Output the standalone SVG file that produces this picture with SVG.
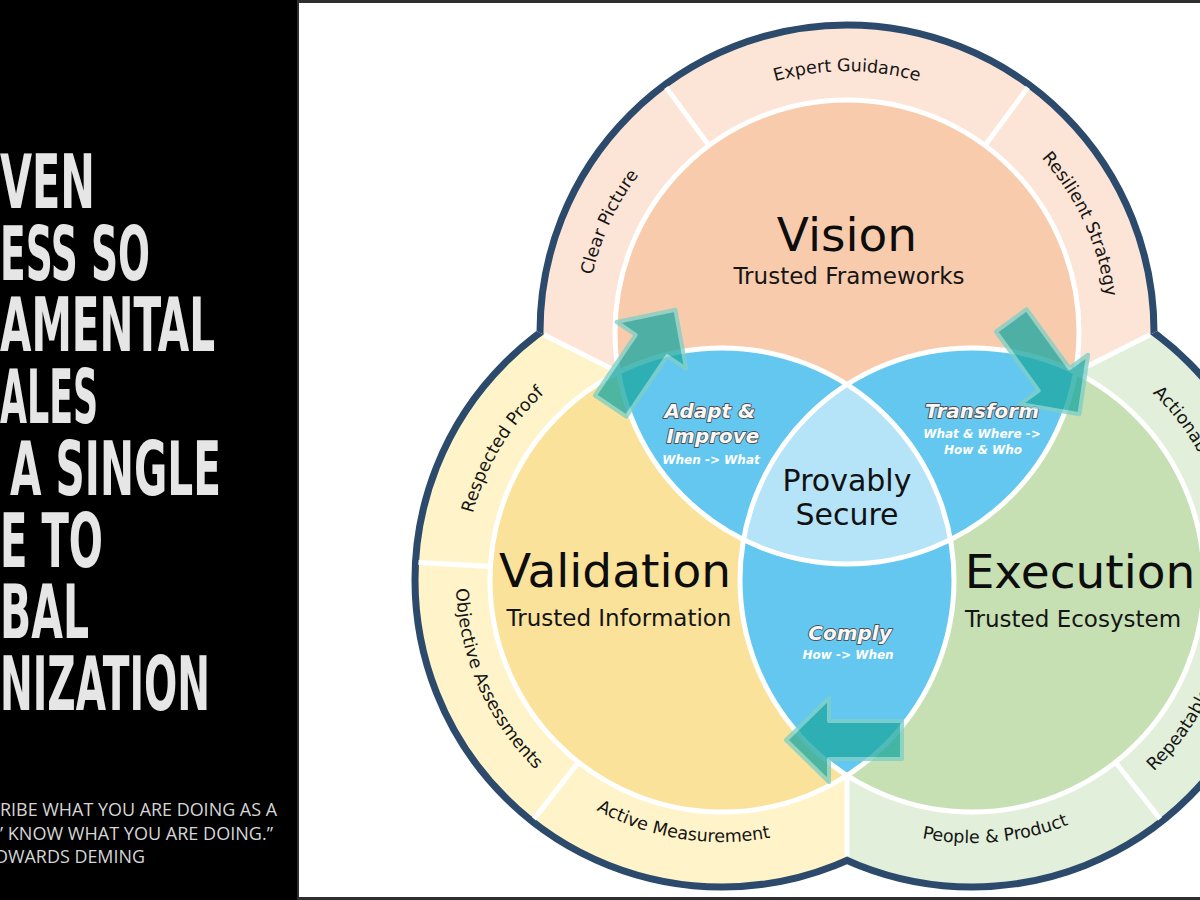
<svg xmlns="http://www.w3.org/2000/svg" width="1200" height="900" viewBox="0 0 1200 900">
<defs>
<style>
.ring-text{font-family:"DejaVu Sans",Verdana,sans-serif;font-size:17.5px;fill:#151515;}
.title{font-family:"DejaVu Sans",Verdana,sans-serif;font-size:47px;fill:#0d0d0d;}
.sub{font-family:"DejaVu Sans",Verdana,sans-serif;font-size:23px;fill:#151515;}
.center{font-family:"DejaVu Sans",Verdana,sans-serif;font-size:30px;fill:#111;}
.lens-title{font-family:"DejaVu Sans",Verdana,sans-serif;font-size:20px;font-weight:bold;font-style:italic;fill:#f7f7f7;stroke:#505050;stroke-width:1.8px;paint-order:stroke;stroke-linejoin:round;}
.lens-sub{font-family:"DejaVu Sans",Verdana,sans-serif;font-size:12px;font-weight:bold;font-style:italic;fill:#ffffff;}
.wl{stroke:#ffffff;stroke-width:5;fill:none;}
.border{fill:none;stroke:#2c4a6b;stroke-width:7;}
.arrow{fill:#1fa9a2;stroke:#7fd0c6;stroke-width:4;stroke-linejoin:round;}
.big{font-family:"Liberation Sans Narrow","DejaVu Sans Condensed",sans-serif;font-weight:bold;font-size:74px;fill:#e6e6e6;}
.quote{font-family:"Open Sans","Liberation Sans",sans-serif;font-size:18px;fill:#d6d6d6;}
</style>
<clipPath id="cellV"><polygon points="847,487.5 -400,-141 -400,-400 2094,-400 2094,-141"/></clipPath>
<clipPath id="cellA"><polygon points="847,487.5 -400,-141 -400,1400 847,1400"/></clipPath>
<clipPath id="cellE"><polygon points="847,487.5 2094,-141 2094,1400 847,1400"/></clipPath>
<clipPath id="cV"><circle cx="847" cy="332" r="232"/></clipPath>
<clipPath id="cA"><circle cx="722" cy="580" r="232"/></clipPath>
<clipPath id="cE"><circle cx="972" cy="580" r="232"/></clipPath>
<path id="arr" d="M-1,0 L-44,-42 L-44,-19 L-117,-19 L-117,19 L-44,19 L-44,42 Z"/>
<path id="tp-expert" d="M590.0,286.7 A261,261 0 0 1 1104.0,286.7"/>
<path id="tp-clear" d="M698.0,546.3 A261,261 0 0 1 913.7,79.7"/>
<path id="tp-resilient" d="M780.3,79.7 A261,261 0 0 1 996.0,546.3"/>
<path id="tp-respected" d="M553.8,775.6 A258,258 0 0 1 813.2,338.7"/>
<path id="tp-objective" d="M574.4,358.7 A266,266 0 0 0 785.0,838.4"/>
<path id="tp-active" d="M460.0,584.6 A262,262 0 0 0 969.7,665.3"/>
<path id="tp-people" d="M718.3,649.4 A263,263 0 0 0 1234.1,601.5"/>
<path id="tp-action" d="M1152.6,393.0 A260,260 0 0 1 926.9,836.0"/>
<path id="tp-repeat" d="M1153.7,771.5 A264,264 0 0 0 926.2,320.0"/>
</defs>

<g id="background">
<rect x="0" y="0" width="1200" height="900" fill="#2e2e2e"/>
<rect x="0" y="0" width="297" height="900" fill="#000000"/>
<rect x="299" y="3" width="901" height="894" fill="#ffffff"/>
</g>

<g id="left-panel">
<text class="big" x="0" y="208" textLength="95" lengthAdjust="spacingAndGlyphs">VEN</text>
<text class="big" x="0" y="280" textLength="150" lengthAdjust="spacingAndGlyphs">ESS SO</text>
<text class="big" x="0" y="351" textLength="215" lengthAdjust="spacingAndGlyphs">AMENTAL</text>
<text class="big" x="0" y="423" textLength="98" lengthAdjust="spacingAndGlyphs">ALES</text>
<text class="big" x="10" y="495" textLength="211" lengthAdjust="spacingAndGlyphs">A SINGLE</text>
<text class="big" x="0" y="567" textLength="103" lengthAdjust="spacingAndGlyphs">E TO</text>
<text class="big" x="0" y="638" textLength="89" lengthAdjust="spacingAndGlyphs">BAL</text>
<text class="big" x="0" y="710" textLength="210" lengthAdjust="spacingAndGlyphs">NIZATION</text>
<text class="quote" x="0" y="816" textLength="277" lengthAdjust="spacingAndGlyphs">RIBE WHAT YOU ARE DOING AS A</text>
<text class="quote" x="0" y="840" textLength="273" lengthAdjust="spacingAndGlyphs">’ KNOW WHAT YOU ARE DOING.”</text>
<text class="quote" x="-5" y="863" textLength="150" lengthAdjust="spacingAndGlyphs">DWARDS DEMING</text>
</g>

<g id="ring-vision">
<circle cx="847" cy="332" r="307" fill="#fce4d6" clip-path="url(#cellV)"/>
<circle cx="847" cy="332" r="307" class="border" clip-path="url(#cellV)"/>
<line class="wl" x1="709.0" y1="145.5" x2="666.2" y2="87.6"/>
<line class="wl" x1="985.0" y1="145.5" x2="1027.8" y2="87.6"/>
<text class="ring-text"><textPath href="#tp-expert" startOffset="50%" text-anchor="middle">Expert Guidance</textPath></text>
<text class="ring-text"><textPath href="#tp-clear" startOffset="50%" text-anchor="middle">Clear Picture</textPath></text>
<text class="ring-text"><textPath href="#tp-resilient" startOffset="50%" text-anchor="middle">Resilient Strategy</textPath></text>
</g>

<g id="ring-validation">
<circle cx="722" cy="580" r="307" fill="#fff4c9" clip-path="url(#cellA)"/>
<circle cx="722" cy="580" r="307" class="border" clip-path="url(#cellA)"/>
<line class="wl" x1="490.4" y1="566.6" x2="418.5" y2="562.5"/>
<line class="wl" x1="578.5" y1="762.3" x2="534.0" y2="818.9"/>
<text class="ring-text"><textPath href="#tp-respected" startOffset="50%" text-anchor="middle">Respected Proof</textPath></text>
<text class="ring-text"><textPath href="#tp-objective" startOffset="50%" text-anchor="middle">Objective Assessments</textPath></text>
<text class="ring-text"><textPath href="#tp-active" startOffset="50%" text-anchor="middle">Active Measurement</textPath></text>
</g>

<g id="ring-execution">
<circle cx="972" cy="580" r="307" fill="#e2efda" clip-path="url(#cellE)"/>
<circle cx="972" cy="580" r="307" class="border" clip-path="url(#cellE)"/>
<line class="wl" x1="1115.5" y1="762.3" x2="1160.0" y2="818.9"/>
<line class="wl" x1="1203.6" y1="566.6" x2="1275.5" y2="562.5"/>
<text class="ring-text"><textPath href="#tp-people" startOffset="50%" text-anchor="middle">People &amp; Product</textPath></text>
<text class="ring-text"><textPath href="#tp-action" startOffset="0">Actionable</textPath></text>
<text class="ring-text"><textPath href="#tp-repeat" startOffset="0">Repeatable</textPath></text>
</g>

<g id="ring-seams">
<line class="wl" stroke-width="4" x1="544.0" y1="334.8" x2="618.5" y2="372.3"/>
<line class="wl" stroke-width="4" x1="1150.0" y1="334.8" x2="1075.5" y2="372.3"/>
<line class="wl" stroke-width="3" x1="847" y1="775.4" x2="847" y2="856"/>
</g>

<g id="node-vision">
<circle cx="847" cy="332" r="232" fill="#f8cbad"/>
<text class="title" x="847" y="251" text-anchor="middle" font-size="51">Vision</text>
<text class="sub" x="849" y="284" text-anchor="middle" font-size="23.5">Trusted Frameworks</text>
</g>

<g id="node-validation">
<circle cx="722" cy="580" r="232" fill="#fae29b"/>
<text class="title" x="615" y="587" text-anchor="middle">Validation</text>
<text class="sub" x="619" y="626" text-anchor="middle">Trusted Information</text>
</g>

<g id="node-execution">
<circle cx="972" cy="580" r="232" fill="#c6e0b4"/>
<text class="title" x="1080" y="588" text-anchor="middle">Execution</text>
<text class="sub" x="1073" y="627" text-anchor="middle">Trusted Ecosystem</text>
</g>

<g id="node-adapt">
<g clip-path="url(#cV)"><circle cx="722" cy="580" r="232" fill="#63c7f0"/></g>
<text class="lens-title" x="710" y="418" text-anchor="middle">Adapt &amp;</text>
<text class="lens-title" x="713" y="443" text-anchor="middle">Improve</text>
<text class="lens-sub" x="711" y="464" text-anchor="middle">When -&gt; What</text>
</g>

<g id="node-transform">
<g clip-path="url(#cV)"><circle cx="972" cy="580" r="232" fill="#63c7f0"/></g>
<text class="lens-title" x="982" y="418" text-anchor="middle">Transform</text>
<text class="lens-sub" x="982" y="438" text-anchor="middle">What &amp; Where -&gt;</text>
<text class="lens-sub" x="983" y="454" text-anchor="middle">How &amp; Who</text>
</g>

<g id="node-comply">
<g clip-path="url(#cA)"><circle cx="972" cy="580" r="232" fill="#63c7f0"/></g>
<text class="lens-title" x="850" y="640" text-anchor="middle">Comply</text>
<text class="lens-sub" x="848" y="659" text-anchor="middle">How -&gt; When</text>
</g>

<g id="node-secure">
<g clip-path="url(#cV)"><g clip-path="url(#cA)"><circle cx="972" cy="580" r="232" fill="#b5e3f8"/></g></g>
<text class="center" x="847" y="491" text-anchor="middle">Provably</text>
<text class="center" x="847" y="525" text-anchor="middle">Secure</text>
</g>

<g id="outlines">
<circle class="wl" cx="847" cy="332" r="232"/>
<circle class="wl" cx="722" cy="580" r="232"/>
<circle class="wl" cx="972" cy="580" r="232"/>
</g>

<g id="connectors">
<g opacity="0.78"><use href="#arr" class="arrow" transform="translate(676,309) rotate(-56)"/></g>
<g opacity="0.78"><use href="#arr" class="arrow" transform="translate(1080,415) rotate(54)"/></g>
<g opacity="0.78"><use href="#arr" class="arrow" transform="translate(785,740) rotate(180)"/></g>
</g>
</svg>
